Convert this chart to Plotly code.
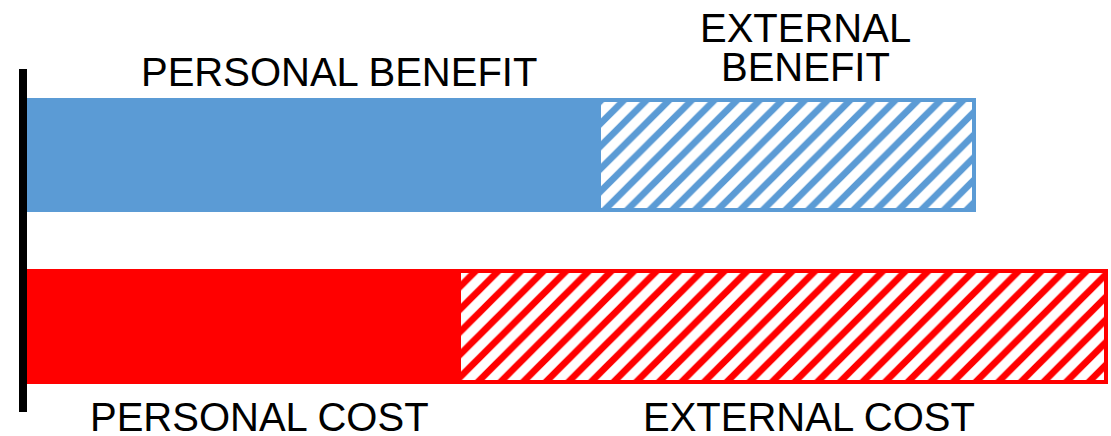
import plotly.graph_objects as go

categories = ["Benefit", "Cost"]
personal = [57.2, 43.2]
external = [37.5, 64.7]
colors = ["#5B9BD5", "#FF0000"]
personal_labels = ["PERSONAL BENEFIT", "PERSONAL COST"]
external_labels = ["EXTERNAL<br>BENEFIT", "EXTERNAL COST"]

FONT = "Liberation Sans, Arial, sans-serif"
BAR_W = 0.645

fig = go.Figure()
fig.add_trace(go.Bar(
    y=categories, x=personal, orientation="h", width=BAR_W,
    marker=dict(color=colors, line=dict(color=colors, width=4)),
    showlegend=False, hoverinfo="skip",
))
fig.add_trace(go.Bar(
    y=categories, x=external, orientation="h", width=BAR_W,
    marker=dict(
        color=colors,
        line=dict(color=colors, width=4),
        pattern=dict(shape="/", fillmode="replace", fgcolor=colors,
                     bgcolor="white", size=16, solidity=0.42),
    ),
    showlegend=False, hoverinfo="skip",
))

# vertical axis line
fig.add_shape(type="line", x0=-0.4, x1=-0.4, y0=-0.494, y1=1.5,
              line=dict(color="black", width=8), layer="above")

font = dict(family=FONT, size=40, color="black")
# labels
fig.add_annotation(x=personal[0] / 2 + 2.6, y=1.48, text=personal_labels[0],
                   showarrow=False, font=font, xanchor="center", yanchor="middle")
ext_b = external_labels[0].split("<br>")
fig.add_annotation(x=77.8, y=1.741, text=ext_b[0], showarrow=False, font=font,
                   xanchor="center", yanchor="middle")
fig.add_annotation(x=77.8, y=1.51, text=ext_b[1], showarrow=False, font=font,
                   xanchor="center", yanchor="middle")
fig.add_annotation(x=23.2, y=-0.523, text=personal_labels[1], showarrow=False,
                   font=font, xanchor="center", yanchor="middle")
fig.add_annotation(x=78.2, y=-0.523, text=external_labels[1], showarrow=False,
                   font=font, xanchor="center", yanchor="middle")

fig.update_layout(
    barmode="stack",
    width=1111, height=436,
    margin=dict(l=0, r=0, t=0, b=0),
    paper_bgcolor="white", plot_bgcolor="white",
    xaxis=dict(range=[-2.7, 108.4], visible=False, fixedrange=True),
    yaxis=dict(range=[-0.634, 1.901], visible=False, type="category",
               categoryorder="array", categoryarray=["Cost", "Benefit"],
               fixedrange=True),
    bargap=0,
)

fig.write_html(
    "out.html",
    config={"displayModeBar": False},
    post_script="document.body.style.margin='0';document.body.style.overflow='hidden';",
)
